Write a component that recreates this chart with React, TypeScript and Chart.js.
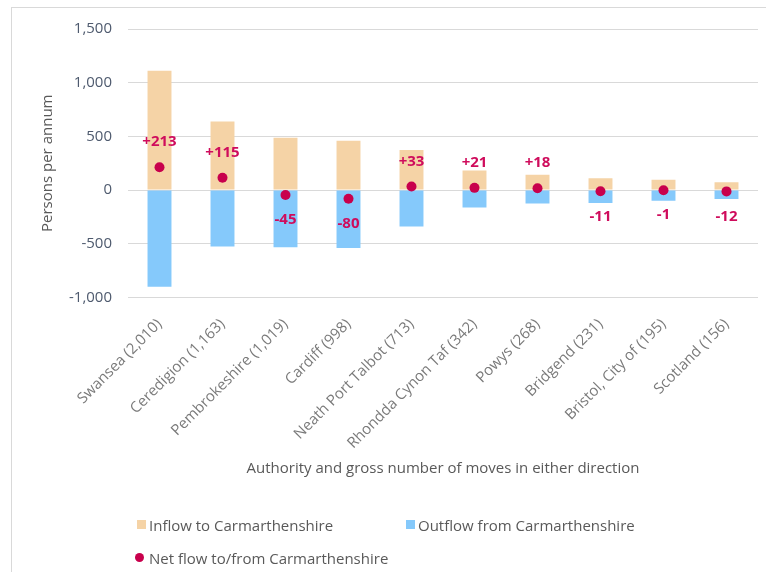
import React, { useEffect, useRef } from "react";
import { Chart, registerables } from "chart.js";

Chart.register(...registerables);

const categories = [
  "Swansea (2,010)",
  "Ceredigion (1,163)",
  "Pembrokeshire (1,019)",
  "Cardiff (998)",
  "Neath Port Talbot (713)",
  "Rhondda Cynon Taf (342)",
  "Powys (268)",
  "Bridgend (231)",
  "Bristol, City of (195)",
  "Scotland (156)",
];
const inflow = [1111, 639, 487, 459, 373, 182, 143, 110, 97, 72];
const outflow = [-899, -524, -532, -539, -340, -161, -125, -121, -98, -84];
const net = [213, 115, -45, -80, 33, 21, 18, -11, -1, -12];
const yMin = -1000;
const yMax = 1500;
const yStep = 500;

const FONT = "'Open Sans', 'DejaVu Sans', sans-serif";
const INFLOW_COLOR = "#F5D3A6";
const OUTFLOW_COLOR = "#85C9FB";
const NET_COLOR = "#C8004C";
const NET_LABEL_COLOR = "#CF0C5C";

const netLabelPlugin = {
  id: "netLabels",
  afterDatasetsDraw(chart: any) {
    const meta = chart.getDatasetMeta(0);
    const ctx = chart.ctx;
    ctx.save();
    ctx.font = `bold 15px ${FONT}`;
    ctx.fillStyle = NET_LABEL_COLOR;
    ctx.textAlign = "center";
    ctx.textBaseline = "middle";
    meta.data.forEach((pt: any, i: number) => {
      const v = net[i];
      const text = v > 0 ? `+${v}` : `${v}`;
      const y = v > 0 ? pt.y - 25 : pt.y + 25;
      ctx.fillText(text, pt.x, y);
    });
    ctx.restore();
  },
};

function ChartCanvas() {
  const ref = useRef<HTMLCanvasElement | null>(null);
  useEffect(() => {
    if (!ref.current) return;
    Chart.defaults.font.family = FONT;
    const chart = new Chart(ref.current, {
      type: "bar",
      data: {
        labels: categories,
        datasets: [
          {
            type: "line",
            label: "Net flow to/from Carmarthenshire",
            data: net,
            showLine: false,
            pointRadius: 5,
            pointHoverRadius: 5,
            pointBorderWidth: 0,
            pointBackgroundColor: NET_COLOR,
            backgroundColor: NET_COLOR,
            borderColor: NET_COLOR,
            order: 0,
          } as any,
          {
            type: "bar",
            label: "Inflow to Carmarthenshire",
            data: inflow,
            backgroundColor: INFLOW_COLOR,
            grouped: false,
            barPercentage: 0.38,
            categoryPercentage: 1,
            order: 1,
          } as any,
          {
            type: "bar",
            label: "Outflow from Carmarthenshire",
            data: outflow,
            backgroundColor: OUTFLOW_COLOR,
            grouped: false,
            barPercentage: 0.38,
            categoryPercentage: 1,
            order: 2,
          } as any,
        ],
      },
      options: {
        animation: false,
        responsive: false,
        maintainAspectRatio: false,
        layout: { padding: { left: 36, right: 8, top: 29, bottom: 90 } },
        plugins: {
          legend: { display: false },
          tooltip: { enabled: false },
        },
        scales: {
          x: {
            grid: { display: false, drawTicks: false },
            border: { display: false },
            ticks: {
              minRotation: 45,
              maxRotation: 45,
              autoSkip: false,
              color: "#7A7A7A",
              font: { size: 15, family: FONT },
              padding: 18,
            },
            title: {
              display: true,
              text: "Authority and gross number of moves in either direction",
              color: "#595959",
              font: { size: 15, family: FONT },
              padding: { top: 4, bottom: 4 },
            },
            afterFit: (scale: any) => {
              scale.height = 184.5;
            },
          },
          y: {
            min: yMin,
            max: yMax,
            grid: { color: "#D9D9D9", drawTicks: false, lineWidth: 1 },
            border: { display: false },
            ticks: {
              stepSize: yStep,
              color: "#4E5A6E",
              font: { size: 15, family: FONT },
              padding: 16,
              callback: (v: any) => Number(v).toLocaleString("en-US"),
            },
            title: {
              display: true,
              text: "Persons per annum",
              color: "#595959",
              font: { size: 15, family: FONT },
              padding: { top: 3, bottom: 0 },
            },
            afterFit: (scale: any) => {
              scale.width = 92;
            },
          },
        },
      },
      plugins: [netLabelPlugin],
    });
    return () => chart.destroy();
  }, []);
  return (
    <canvas
      ref={ref}
      width={766}
      height={572}
      style={{ position: "absolute", left: 0, top: 0, width: 766, height: 572 }}
    />
  );
}

const legendText: React.CSSProperties = {
  position: "absolute",
  fontFamily: FONT,
  fontSize: 15,
  color: "#595959",
  lineHeight: "20px",
  whiteSpace: "nowrap",
};

export default function App() {
  return (
    <div
      style={{
        position: "fixed",
        left: 0,
        top: 0,
        width: 766,
        height: 572,
        overflow: "hidden",
        background: "#fff",
      }}
    >
      <div
        style={{
          position: "absolute",
          left: 11,
          top: 7,
          width: 800,
          height: 600,
          border: "1px solid #D9D9D9",
          boxSizing: "border-box",
        }}
      />
      <ChartCanvas />
      <div style={{ position: "absolute", left: 137, top: 520, width: 9, height: 9, background: INFLOW_COLOR }} />
      <div style={{ ...legendText, left: 149, top: 515 }}>Inflow to Carmarthenshire</div>
      <div style={{ position: "absolute", left: 406, top: 520, width: 9, height: 9, background: OUTFLOW_COLOR }} />
      <div style={{ ...legendText, left: 418, top: 515 }}>Outflow from Carmarthenshire</div>
      <div
        style={{
          position: "absolute",
          left: 135,
          top: 553,
          width: 9,
          height: 9,
          borderRadius: "50%",
          background: NET_COLOR,
        }}
      />
      <div style={{ ...legendText, left: 149, top: 548 }}>Net flow to/from Carmarthenshire</div>
    </div>
  );
}
